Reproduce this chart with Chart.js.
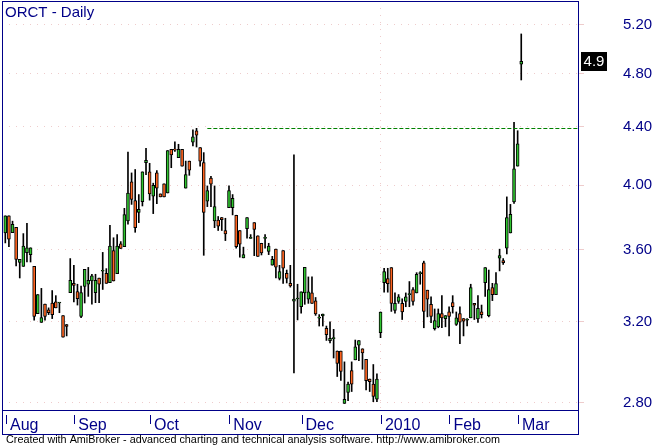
<!DOCTYPE html>
<html lang="en">
<head>
    <meta charset="UTF-8">
    <title>ORCT - Daily</title>
    <style>
        html, body { margin: 0; padding: 0; background: #fff; }
        #chart { display: block; }
    </style>
</head>
<body>
    <canvas id="chart" width="656" height="447"></canvas>

    <script src="https://cdn.jsdelivr.net/npm/chart.js"></script>
    <script>
        // ORCT daily bars, Aug 2009 - Mar 2010
        const chartTitle = 'ORCT - Daily';
        const footerText = 'Created with AmiBroker - advanced charting and technical analysis software. http://www.amibroker.com';

        const monthLabels = ['Aug', 'Sep', 'Oct', 'Nov', 'Dec', '2010', 'Feb', 'Mar'];
        const monthStartBars = [0, 20, 41, 63, 83, 105, 124, 143];
        const priceTicks = [2.8, 3.2, 3.6, 4.0, 4.4, 4.8, 5.2];

        const openPrices = [
            3.699, 3.804, 3.701, 3.733, 3.525, 3.502, 3.581, 3.570, 3.502, 3.241,
            3.195, 3.292, 3.261, 3.298, 3.304, 3.298, 3.231, 3.184, 3.355, 3.406,
            3.360, 3.227, 3.389, 3.402, 3.419, 3.355, 3.435, 3.474, 3.462, 3.410,
            3.593, 3.461, 3.633, 3.617, 3.772, 4.022, 3.901, 3.825, 3.893, 4.150,
            4.088, 3.928, 4.081, 3.943, 4.008, 3.949, 4.242, 4.242, 4.185, 4.242,
            3.981, 4.161, 4.292, 4.373, 4.254, 4.150, 3.897, 4.047, 3.772, 3.777,
            3.794, 3.714, 3.856, 3.856, 3.808, 3.714, 3.551, 3.725, 3.666, 3.762,
            3.681, 3.637, 3.666, 3.589, 3.509, 3.602, 3.433, 3.593, 3.462, 3.406,
            3.308, 3.320, 3.278, 3.353, 3.319, 3.353, 3.310, 3.217, 3.229, 3.164,
            3.101, 3.111, 3.049, 3.049, 2.798, 2.849, 2.952, 3.005, 3.078, 3.060,
            3.008, 2.912, 2.888, 2.817, 3.142, 3.410, 3.433, 3.495, 3.258, 3.306,
            3.296, 3.306, 3.344, 3.372, 3.353, 3.461, 3.523, 3.368, 3.291, 3.162,
            3.172, 3.241, 3.215, 3.251, 3.300, 3.184, 3.241, 3.215, 3.206, 3.219,
            3.296, 3.213, 3.251, 3.410, 3.231, 3.382, 3.344, 3.549, 3.536, 3.608,
            3.699, 3.891, 4.127, 4.876
        ];
        const highPrices = [
            3.804, 3.804, 3.771, 3.733, 3.542, 3.695, 3.758, 3.610, 3.502, 3.344,
            3.378, 3.292, 3.272, 3.366, 3.338, 3.298, 3.231, 3.184, 3.547, 3.508,
            3.401, 3.391, 3.485, 3.496, 3.457, 3.457, 3.435, 3.583, 3.489, 3.746,
            3.670, 3.689, 3.647, 3.851, 4.223, 4.081, 4.104, 3.939, 4.088, 4.249,
            4.146, 4.013, 4.097, 3.943, 4.008, 4.233, 4.242, 4.295, 4.277, 4.242,
            4.161, 4.161, 4.380, 4.390, 4.254, 4.219, 3.995, 4.058, 3.995, 3.800,
            3.794, 3.789, 3.995, 3.939, 3.808, 3.714, 3.614, 3.794, 3.689, 3.762,
            3.681, 3.637, 3.689, 3.637, 3.560, 3.602, 3.508, 3.593, 3.481, 3.508,
            4.203, 3.401, 3.359, 3.496, 3.442, 3.442, 3.328, 3.236, 3.239, 3.176,
            3.198, 3.159, 3.049, 3.049, 2.995, 2.898, 2.995, 3.104, 3.101, 3.060,
            3.008, 2.912, 2.982, 2.937, 3.250, 3.491, 3.491, 3.495, 3.353, 3.344,
            3.321, 3.353, 3.416, 3.382, 3.466, 3.472, 3.532, 3.368, 3.331, 3.266,
            3.266, 3.338, 3.231, 3.278, 3.338, 3.250, 3.278, 3.215, 3.215, 3.401,
            3.296, 3.338, 3.287, 3.495, 3.481, 3.406, 3.466, 3.602, 3.547, 3.924,
            3.876, 4.434, 4.373, 5.124
        ];
        const lowPrices = [
            3.639, 3.617, 3.701, 3.504, 3.436, 3.502, 3.527, 3.527, 3.206, 3.241,
            3.195, 3.206, 3.236, 3.215, 3.272, 3.246, 3.118, 3.125, 3.355, 3.304,
            3.287, 3.220, 3.298, 3.334, 3.292, 3.300, 3.300, 3.372, 3.406, 3.410,
            3.419, 3.461, 3.606, 3.617, 3.752, 3.876, 3.703, 3.762, 3.866, 4.070,
            3.903, 3.818, 3.881, 3.924, 3.924, 3.949, 4.116, 4.228, 4.185, 4.127,
            3.981, 4.065, 4.265, 4.258, 4.127, 3.566, 3.862, 3.862, 3.731, 3.714,
            3.714, 3.653, 3.856, 3.810, 3.608, 3.555, 3.551, 3.668, 3.666, 3.564,
            3.560, 3.568, 3.608, 3.570, 3.509, 3.436, 3.425, 3.406, 3.408, 3.385,
            2.941, 3.208, 3.244, 3.291, 3.296, 3.296, 3.232, 3.176, 3.176, 3.102,
            3.090, 3.014, 2.924, 2.905, 2.798, 2.811, 2.853, 3.005, 3.001, 2.959,
            2.861, 2.853, 2.806, 2.806, 3.116, 3.357, 3.357, 3.253, 3.244, 3.296,
            3.210, 3.278, 3.278, 3.287, 3.353, 3.401, 3.167, 3.224, 3.193, 3.155,
            3.167, 3.167, 3.172, 3.125, 3.244, 3.179, 3.085, 3.125, 3.176, 3.219,
            3.210, 3.195, 3.218, 3.334, 3.224, 3.311, 3.344, 3.476, 3.513, 3.574,
            3.699, 3.883, 4.127, 4.752
        ];
        const closePrices = [
            3.804, 3.662, 3.752, 3.542, 3.542, 3.621, 3.610, 3.610, 3.227, 3.344,
            3.220, 3.227, 3.246, 3.236, 3.272, 3.298, 3.119, 3.174, 3.423, 3.395,
            3.321, 3.355, 3.485, 3.423, 3.448, 3.423, 3.401, 3.474, 3.406, 3.621,
            3.419, 3.621, 3.606, 3.812, 3.949, 3.908, 3.731, 3.845, 4.088, 4.166,
            3.943, 3.999, 3.981, 3.924, 3.924, 4.233, 4.203, 4.236, 4.242, 4.127,
            4.070, 4.100, 4.330, 4.341, 4.161, 3.825, 3.964, 4.006, 3.862, 3.741,
            3.781, 3.693, 3.964, 3.914, 3.617, 3.631, 3.570, 3.794, 3.666, 3.720,
            3.560, 3.580, 3.666, 3.621, 3.542, 3.498, 3.472, 3.492, 3.433, 3.391,
            3.319, 3.320, 3.359, 3.496, 3.359, 3.296, 3.239, 3.217, 3.239, 3.132,
            3.113, 3.111, 2.988, 2.948, 2.817, 2.888, 2.888, 3.070, 3.101, 3.039,
            2.904, 2.900, 2.830, 2.912, 3.250, 3.472, 3.404, 3.296, 3.296, 3.331,
            3.250, 3.331, 3.344, 3.306, 3.457, 3.461, 3.253, 3.319, 3.227, 3.205,
            3.241, 3.219, 3.231, 3.227, 3.278, 3.219, 3.196, 3.201, 3.206, 3.382,
            3.287, 3.270, 3.236, 3.495, 3.372, 3.344, 3.404, 3.564, 3.523, 3.794,
            3.814, 4.109, 4.281, 4.900
        ];

        // October high, drawn as the dashed green level
        const priorHigh = 4.39;
        const priorHighFromBar = 56;

        const upColor = '#2fc42f';
        const downColor = '#ff6420';
        const axisBlue = '#000088';
        const gridPink = '#eecccc';

        Chart.defaults.font.family = '"Liberation Sans", Arial, sans-serif';

        const bars = openPrices.map((o, i) => i);
        const separatorPos = monthStartBars.map(b => b === 0 ? 0.2 : b - 0.9);

        const bodies = bars.map(i => ({
            x: i,
            y: [Math.min(openPrices[i], closePrices[i]), Math.max(openPrices[i], closePrices[i])]
        }));
        const wicks = bars.map(i => ({ x: i, y: [lowPrices[i], highPrices[i]] }));
        const bodyColors = bars.map(i => closePrices[i] >= openPrices[i] ? upColor : downColor);

        // frame, month separators, resistance line, title, footer and last price tag
        const amiDecor = {
            id: 'amiDecor',
            afterDraw(chart) {
                const { ctx, chartArea: a, scales: { x, y } } = chart;
                const boxBottom = a.bottom + 24;
                ctx.save();

                const ry = Math.round(y.getPixelForValue(priorHigh)) + 0.5;
                ctx.strokeStyle = '#008000';
                ctx.lineWidth = 1;
                ctx.setLineDash([4, 2]);
                ctx.beginPath();
                ctx.moveTo(x.getPixelForValue(priorHighFromBar), ry);
                ctx.lineTo(a.right, ry);
                ctx.stroke();
                ctx.setLineDash([]);

                ctx.strokeStyle = axisBlue;
                ctx.strokeRect(a.left + 0.5, a.top + 0.5, a.right - a.left, boxBottom - a.top);
                ctx.beginPath();
                ctx.moveTo(a.left, a.bottom + 0.5);
                ctx.lineTo(a.right, a.bottom + 0.5);
                separatorPos.forEach(v => {
                    const px = Math.round(x.getPixelForValue(v)) + 0.5;
                    ctx.moveTo(px, a.bottom + 5);
                    ctx.lineTo(px, a.bottom + 14);
                });
                ctx.stroke();

                ctx.fillStyle = axisBlue;
                ctx.font = '15px "Liberation Sans", Arial, sans-serif';
                ctx.textBaseline = 'alphabetic';
                ctx.textAlign = 'left';
                ctx.fillText(chartTitle, a.left + 3, a.top + 16);

                ctx.fillStyle = '#000';
                ctx.font = '11px "Liberation Sans", Arial, sans-serif';
                ctx.fillText(footerText, 6, boxBottom + 9, 494);

                const last = closePrices[closePrices.length - 1];
                const ly = Math.round(y.getPixelForValue(last));
                ctx.fillStyle = '#000';
                ctx.fillRect(a.right + 3, ly - 9, 26, 19);
                ctx.fillStyle = '#fff';
                ctx.font = '15px "Liberation Sans", Arial, sans-serif';
                ctx.textAlign = 'center';
                ctx.textBaseline = 'middle';
                ctx.fillText(String(last), a.right + 16, ly + 1);
                ctx.restore();
            }
        };

        new Chart(document.getElementById('chart'), {
            type: 'bar',
            data: {
                datasets: [
                    {
                        label: 'body',
                        data: bodies,
                        backgroundColor: bodyColors,
                        borderColor: '#000',
                        borderWidth: 1,
                        borderSkipped: false,
                        barThickness: 3,
                        minBarLength: 1,
                        grouped: false,
                        order: 0
                    },
                    {
                        label: 'range',
                        data: wicks,
                        backgroundColor: '#000',
                        borderWidth: 0,
                        barThickness: 1,
                        grouped: false,
                        order: 1
                    }
                ]
            },
            options: {
                responsive: false,
                animation: false,
                events: [],
                layout: { padding: { left: 2, top: 1, right: 0, bottom: 0 } },
                plugins: {
                    legend: { display: false },
                    tooltip: { enabled: false }
                },
                scales: {
                    x: {
                        type: 'linear',
                        offset: false,
                        min: -0.915,
                        max: 158.73,
                        afterBuildTicks: scale => {
                            scale.ticks = separatorPos.map(v => ({ value: v }));
                        },
                        afterFit: scale => {
                            scale.height = 37;
                            scale.paddingLeft = 0;
                            scale.paddingRight = 0;
                        },
                        ticks: {
                            autoSkip: false,
                            maxRotation: 0,
                            minRotation: 0,
                            align: 'start',
                            labelOffset: 4,
                            padding: 6,
                            color: axisBlue,
                            font: { size: 16 },
                            callback: (v, i) => monthLabels[i]
                        },
                        grid: {
                            offset: false,
                            drawTicks: false,
                            color: c => c.index === 5 ? gridPink : 'rgba(0,0,0,0)'
                        },
                        border: { display: false, dash: [1, 6] }
                    },
                    y: {
                        type: 'logarithmic',
                        position: 'right',
                        min: 2.768,
                        max: 5.408,
                        afterBuildTicks: scale => {
                            scale.ticks = priceTicks.map(v => ({ value: v }));
                        },
                        afterFit: scale => {
                            scale.width = 78;
                            scale.paddingTop = 0;
                            scale.paddingBottom = 0;
                        },
                        ticks: {
                            padding: 39,
                            color: axisBlue,
                            font: { size: 15 },
                            callback: v => Number(v).toFixed(2)
                        },
                        grid: {
                            color: gridPink,
                            drawTicks: true,
                            tickLength: 6,
                            tickColor: gridPink,
                            tickBorderDash: []
                        },
                        border: { display: false, dash: [1, 6] }
                    }
                }
            },
            plugins: [amiDecor]
        });
    </script>
</body>
</html>
